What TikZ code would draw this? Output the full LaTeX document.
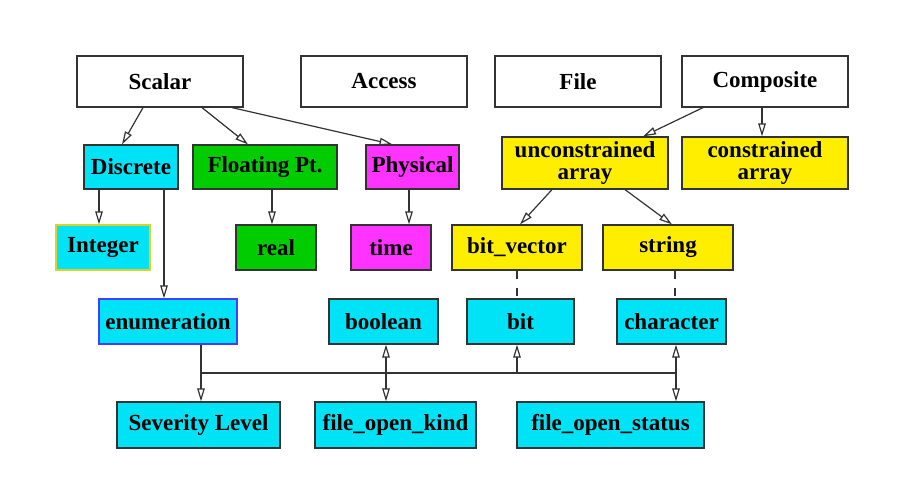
\documentclass[tikz,border=0pt]{standalone}
\usepackage{fontspec}
\setmainfont{Liberation Serif}
\usepackage{xcolor}
\usepackage{tikz}
\usetikzlibrary{arrows.meta, calc}

\definecolor{vcyan}{HTML}{00E2F6}
\definecolor{vgreen}{HTML}{00CC00}
\definecolor{vmag}{HTML}{FF33FF}
\definecolor{vyel}{HTML}{FFEE00}
\definecolor{edge}{HTML}{333333}

\begin{document}
\begin{tikzpicture}[
    x=1pt, y=-1pt,
    font=\bfseries\fontsize{23}{23}\selectfont,
    tbox/.style={draw=edge, line width=1.2pt, inner sep=0pt, align=center, minimum height=45pt},
    link/.style={draw=edge, line width=1.2pt, -{Triangle[open, length=13pt, width=7.5pt]}},
    dual/.style={draw=edge, line width=1.2pt, {Triangle[open, length=13pt, width=7.5pt]}-{Triangle[open, length=13pt, width=7.5pt]}},
    plain/.style={draw=edge, line width=1.2pt},
    dashlink/.style={draw=edge, line width=1.2pt, dash pattern=on 8pt off 9pt}
]
\useasboundingbox (0,0) rectangle (915,479);

% 1. Top level kinds
\node[tbox, fill=white, minimum width=166pt, minimum height=51pt] (scalar) at (160,81.5) {Scalar};
\node[tbox, fill=white, minimum width=166pt, minimum height=51pt] (access) at (384,81.5) {Access};
\node[tbox, fill=white, minimum width=166pt, minimum height=51pt] (file) at (578,81.5) {File};
\node[tbox, fill=white, minimum width=166pt, minimum height=51pt] (composite) at (765,81.5) {Composite};

% 2. Sub kinds
\node[tbox, fill=vcyan, minimum width=94pt, minimum height=44pt] (discrete) at (131,167) {Discrete};
\node[tbox, fill=vgreen, minimum width=144pt, minimum height=44pt] (floating) at (265,167) {Floating Pt.};
\node[tbox, fill=vmag, minimum width=93pt, minimum height=44pt] (physical) at (412.5,167) {Physical};
\node[tbox, fill=vyel, minimum width=166pt, minimum height=52pt] (uarray) at (585,163) {unconstrained\\[-1pt]array};
\node[tbox, fill=vyel, minimum width=166pt, minimum height=52pt] (carray) at (765,163) {constrained\\[-1pt]array};

% 3. Predefined types
\node[tbox, fill=vcyan, draw=yellow!85!black, minimum width=94pt] (integer) at (103,247.5) {Integer};
\node[tbox, fill=vgreen, minimum width=80pt] (real) at (276,247.5) {real};
\node[tbox, fill=vmag, minimum width=80pt] (time) at (391,247.5) {time};
\node[tbox, fill=vyel, minimum width=130pt] (bitvector) at (517,247.5) {bit\_vector};
\node[tbox, fill=vyel, minimum width=130pt] (string) at (668,247.5) {string};

\node[tbox, fill=vcyan, draw=blue!75, minimum width=138pt] (enumeration) at (168,321.5) {enumeration};
\node[tbox, fill=vcyan, minimum width=109pt] (boolean) at (383.5,321.5) {boolean};
\node[tbox, fill=vcyan, minimum width=107pt] (bit) at (520.5,321.5) {bit};
\node[tbox, fill=vcyan, minimum width=109pt] (character) at (671.5,321.5) {character};

\node[tbox, fill=vcyan, minimum width=163pt, minimum height=46pt] (severity) at (198.5,425) {Severity Level};
\node[tbox, fill=vcyan, minimum width=161pt, minimum height=46pt] (fokind) at (395.5,425) {file\_open\_kind};
\node[tbox, fill=vcyan, minimum width=187pt, minimum height=46pt] (fostatus) at (610.5,425) {file\_open\_status};

% 4. Hierarchy arrows
\draw[link] ([xshift=-17pt]scalar.south) -- ([xshift=-9pt]discrete.north);
\draw[link] ([xshift=42pt]scalar.south) -- ([xshift=-17pt]floating.north);
\draw[link] ([xshift=72pt]scalar.south) -- ([xshift=-20pt]physical.north);
\draw[link] ([xshift=-62pt]composite.south) -- ([xshift=58pt]uarray.north);
\draw[link] ([xshift=-3pt]composite.south) -- ([xshift=-3pt]carray.north);

\draw[link] ([xshift=-32pt]discrete.south) -- ([xshift=-4pt]integer.north);
\draw[link] ([xshift=33pt]discrete.south) -- ([xshift=-4pt]enumeration.north);
\draw[link] ([xshift=7pt]floating.south) -- ([xshift=-4pt]real.north);
\draw[link] ([xshift=-3.5pt]physical.south) -- ([xshift=18pt]time.north);
\draw[link] ([xshift=-33pt]uarray.south) -- ([xshift=3pt]bitvector.north);
\draw[link] ([xshift=40pt]uarray.south) -- ([xshift=4pt]string.north);

% 5. Element types
\draw[dashlink] (bitvector.south) -- ([xshift=-3.5pt]bit.north);
\draw[dashlink] ([xshift=7pt]string.south) -- ([xshift=3.5pt]character.north);

% 6. Shared bus to the bottom row
\coordinate (busL) at (201,373);
\coordinate (busB) at (517,373);
\coordinate (busR) at (676,373);
\draw[plain] (busL) -- (busR);
\draw[link] ([xshift=33pt]enumeration.south) -- ([xshift=2.5pt]severity.north);
\draw[dual] ([xshift=2.5pt]boolean.south) -- ([xshift=-9.5pt]fokind.north);
\draw[link] (busB) -- ([xshift=-3.5pt]bit.south);
\draw[dual] ([xshift=4.5pt]character.south) -- ([xshift=65.5pt]fostatus.north);

\end{tikzpicture}
\end{document}
